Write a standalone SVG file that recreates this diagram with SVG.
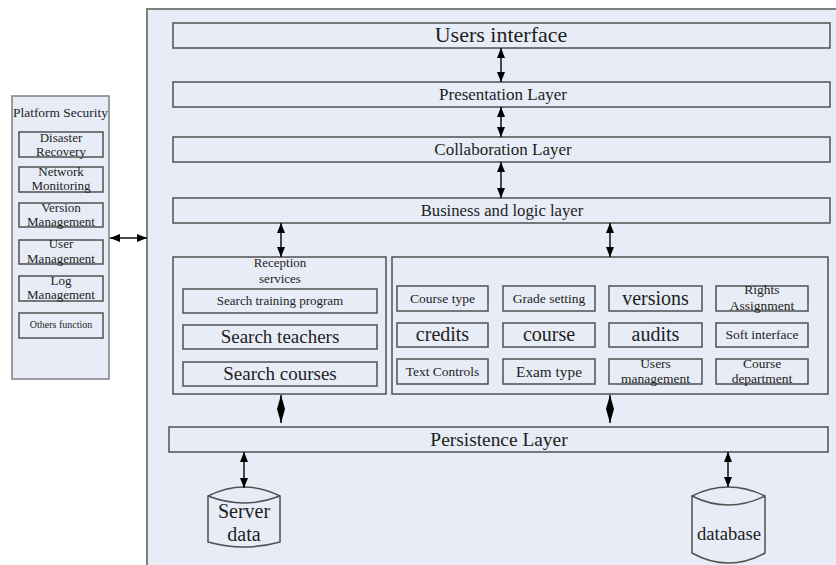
<svg xmlns="http://www.w3.org/2000/svg" width="836" height="565" viewBox="0 0 836 565">
<style>
  .panel { fill: #e7ecf6; stroke: #7f7f7f; stroke-width: 2; }
  .box { fill: #e7ecf6; stroke: #505050; stroke-width: 1.5; }
  .t { font-family: "Liberation Serif", "Times New Roman", serif; fill: #1e1e1e; text-anchor: middle; }
  .conn line { stroke: #111; stroke-width: 1.5; marker-start: url(#ah); marker-end: url(#ah); }
  .conn line.dia { marker-start: url(#dh); marker-end: url(#dh); }
</style>
<defs>
  <marker id="ah" viewBox="0 0 10 8" refX="10" refY="4" markerWidth="10" markerHeight="8" markerUnits="userSpaceOnUse" orient="auto-start-reverse">
    <path d="M0,0 L10,4 L0,8 z" fill="#000"/>
  </marker>
  <marker id="dh" viewBox="0 0 14 8" refX="14" refY="4" markerWidth="14" markerHeight="8" markerUnits="userSpaceOnUse" orient="auto-start-reverse">
    <path d="M0,0 L14,4 L0,8 z" fill="#000"/>
  </marker>
</defs>
<rect width="836" height="565" fill="#ffffff"/>

<g id="main-panel">
  <rect class="panel" x="147" y="9" width="700" height="570"/>
</g>

<g id="platform-security">
  <rect class="panel" x="12" y="96" width="97" height="283" style="stroke-width:1.5"/>
  <text class="t" x="60.5" y="117" font-size="13.4">Platform Security</text>
</g>
<g id="disaster-recovery">
  <rect class="box" x="19" y="132" width="84" height="25"/>
  <text class="t" x="61" y="142" font-size="13">Disaster</text>
  <text class="t" x="61" y="156" font-size="13">Recovery</text>
</g>
<g id="network-monitoring">
  <rect class="box" x="19" y="167" width="84" height="25"/>
  <text class="t" x="61" y="176" font-size="13">Network</text>
  <text class="t" x="61" y="190" font-size="13">Monitoring</text>
</g>
<g id="version-management">
  <rect class="box" x="19" y="203" width="84" height="24"/>
  <text class="t" x="61" y="212" font-size="13">Version</text>
  <text class="t" x="61" y="226" font-size="13">Management</text>
</g>
<g id="user-management">
  <rect class="box" x="19" y="240" width="84" height="24"/>
  <text class="t" x="61" y="248" font-size="13">User</text>
  <text class="t" x="61" y="263" font-size="13">Management</text>
</g>
<g id="log-management">
  <rect class="box" x="19" y="276" width="84" height="25"/>
  <text class="t" x="61" y="285" font-size="13">Log</text>
  <text class="t" x="61" y="299" font-size="13">Management</text>
</g>
<g id="others-function">
  <rect class="box" x="19" y="313" width="84" height="25"/>
  <text class="t" x="61" y="328" font-size="10">Others function</text>
</g>

<g id="users-interface">
  <rect class="box" x="173" y="23" width="657" height="25"/>
  <text class="t" x="501" y="42" font-size="22">Users interface</text>
</g>
<g id="presentation-layer">
  <rect class="box" x="173" y="82" width="657" height="25"/>
  <text class="t" x="503" y="100" font-size="17">Presentation Layer</text>
</g>
<g id="collaboration-layer">
  <rect class="box" x="173" y="137" width="657" height="25"/>
  <text class="t" x="503" y="155" font-size="17">Collaboration Layer</text>
</g>
<g id="business-layer">
  <rect class="box" x="173" y="198" width="657" height="25"/>
  <text class="t" x="502" y="216" font-size="16.7">Business and logic layer</text>
</g>

<g id="reception-services">
  <rect class="box" x="173" y="257" width="213" height="137"/>
  <text class="t" x="280" y="267" font-size="13">Reception</text>
  <text class="t" x="280" y="283" font-size="13">services</text>
</g>
<g id="search-training-program">
  <rect class="box" x="183" y="289" width="194" height="24"/>
  <text class="t" x="280" y="305" font-size="13">Search training program</text>
</g>
<g id="search-teachers">
  <rect class="box" x="183" y="325" width="194" height="24"/>
  <text class="t" x="280" y="343" font-size="19">Search teachers</text>
</g>
<g id="search-courses">
  <rect class="box" x="183" y="362" width="194" height="24"/>
  <text class="t" x="280" y="380" font-size="19">Search courses</text>
</g>

<g id="management-services">
  <rect class="box" x="392" y="257" width="436" height="137"/>
</g>
<g id="course-type">
  <rect class="box" x="397" y="286" width="91" height="25"/>
  <text class="t" x="442.5" y="303" font-size="13.5">Course type</text>
</g>
<g id="grade-setting">
  <rect class="box" x="503" y="286" width="92" height="25"/>
  <text class="t" x="549" y="303" font-size="13.5">Grade setting</text>
</g>
<g id="versions">
  <rect class="box" x="609" y="286" width="93" height="25"/>
  <text class="t" x="655.5" y="305" font-size="20">versions</text>
</g>
<g id="rights-assignment">
  <rect class="box" x="716" y="286" width="92" height="25"/>
  <text class="t" x="762" y="294" font-size="13.5">Rights</text>
  <text class="t" x="762" y="310" font-size="13.5">Assignment</text>
</g>
<g id="credits">
  <rect class="box" x="397" y="323" width="91" height="24"/>
  <text class="t" x="442.5" y="341" font-size="20">credits</text>
</g>
<g id="course">
  <rect class="box" x="503" y="323" width="92" height="24"/>
  <text class="t" x="549" y="341" font-size="20">course</text>
</g>
<g id="audits">
  <rect class="box" x="609" y="323" width="93" height="24"/>
  <text class="t" x="655.5" y="341" font-size="20">audits</text>
</g>
<g id="soft-interface">
  <rect class="box" x="716" y="323" width="92" height="24"/>
  <text class="t" x="762" y="339" font-size="13.5">Soft interface</text>
</g>
<g id="text-controls">
  <rect class="box" x="397" y="359" width="91" height="25"/>
  <text class="t" x="442.5" y="376" font-size="13.5">Text Controls</text>
</g>
<g id="exam-type">
  <rect class="box" x="503" y="359" width="92" height="25"/>
  <text class="t" x="549" y="377" font-size="15.3">Exam type</text>
</g>
<g id="users-management">
  <rect class="box" x="609" y="359" width="93" height="25"/>
  <text class="t" x="655.5" y="368" font-size="13.5">Users</text>
  <text class="t" x="655.5" y="383" font-size="13.5">management</text>
</g>
<g id="course-department">
  <rect class="box" x="716" y="359" width="92" height="25"/>
  <text class="t" x="762" y="368" font-size="13.5">Course</text>
  <text class="t" x="762" y="383" font-size="13.5">department</text>
</g>

<g id="persistence-layer">
  <rect class="box" x="169" y="427" width="659" height="25"/>
  <text class="t" x="499" y="446" font-size="19.4">Persistence Layer</text>
</g>

<g id="server-data">
  <path class="box" d="M208,496 Q244,478 280,496 L280,542 Q244,552 208,542 Z"/>
  <path d="M208,496 Q244,510 280,496" fill="none" stroke="#505050" stroke-width="1.5"/>
  <text class="t" x="244" y="518" font-size="20">Server</text>
  <text class="t" x="244" y="541" font-size="20">data</text>
</g>
<g id="database">
  <path class="box" d="M692,496 Q728,478 765,496 L765,553 Q728,573 692,553 Z"/>
  <path d="M692,496 Q728,514 765,496" fill="none" stroke="#505050" stroke-width="1.5"/>
  <text class="t" x="729" y="540" font-size="18.6">database</text>
</g>

<g id="connectors" class="conn">
  <line x1="110" y1="238" x2="147" y2="238"/>
  <line x1="501" y1="48" x2="501" y2="82"/>
  <line x1="501" y1="107" x2="501" y2="137"/>
  <line x1="501" y1="162" x2="501" y2="198"/>
  <line x1="281" y1="223" x2="281" y2="257"/>
  <line x1="610" y1="223" x2="610" y2="257"/>
  <line class="dia" x1="281" y1="395" x2="281" y2="423"/>
  <line class="dia" x1="610" y1="395" x2="610" y2="423"/>
  <line x1="244" y1="452" x2="244" y2="488"/>
  <line x1="728" y1="452" x2="728" y2="487"/>
</g>
</svg>
